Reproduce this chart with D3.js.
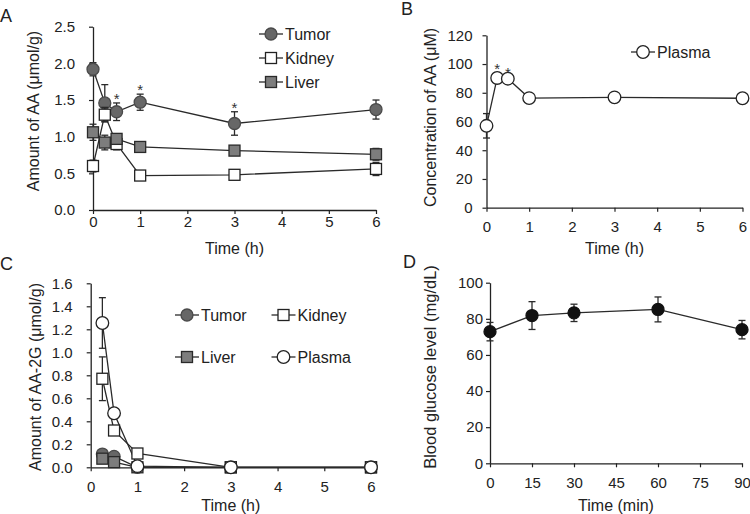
<!DOCTYPE html>
<html><head><meta charset="utf-8">
<script src="https://cdn.jsdelivr.net/npm/d3@7"></script>
<style>
body{margin:0;background:#fff;}
svg{display:block;font-family:"Liberation Sans",Arial,sans-serif;}
</style></head>
<body><svg id="c" width="750" height="514"></svg>
<script>
// ---------- DATA ----------
const timesH = [0, 0.25, 0.5, 1, 3, 6];
const timesHC = [0.25, 0.5, 1, 3, 6];
const timesMin = [0, 15, 30, 60, 90];

// Panel A: AA (µmol/g)
const aTumor = [1.92, 1.46, 1.34, 1.47, 1.18, 1.37];
const aTumorErr = [0.09, 0.25, 0.12, 0.11, 0.16, 0.13];
const aKidney = [0.60, 1.30, 0.90, 0.47, 0.48, 0.56];
const aKidneyErr = [0.08, 0.10, 0.08, 0.03, 0.06, 0.09];
const aLiver = [1.06, 0.92, 0.97, 0.86, 0.81, 0.76];
const aLiverErr = [0.11, 0.10, 0.07, 0.03, 0.03, 0.08];
const aStars = [0.5, 1, 3];

// Panel B: plasma AA (µM)
const bPlasma = [57.0, 90.3, 89.8, 76.3, 76.8, 76.2];
const bPlasmaErr = [8.5, 3.5, 1.5, 1.0, 3.0, 1.0];
const bStars = [0.25, 0.5];

// Panel C: AA-2G (µmol/g)
const cTumor = [0.115, 0.095, 0.0, 0.0, 0.0];
const cTumorErr = [0.01, 0.01, 0, 0, 0];
const cKidney = [0.77, 0.32, 0.12, 0.0, 0.0];
const cKidneyErr = [0.19, 0.03, 0.01, 0, 0];
const cLiver = [0.075, 0.045, 0.0, 0.0, 0.0];
const cLiverErr = [0.01, 0.01, 0, 0, 0];
const cPlasma = [1.255, 0.47, 0.01, 0.0, 0.0];
const cPlasmaErr = [0.22, 0.02, 0.005, 0, 0];

// Panel D: blood glucose (mg/dL)
const dGlucose = [72.9, 81.8, 83.3, 85.2, 74.0];
const dGlucoseErr = [5.1, 7.7, 4.8, 6.9, 5.1];

// Tick labels
const ticksA_y = [0, 0.5, 1.0, 1.5, 2.0, 2.5];
const ticksB_y = [0, 20, 40, 60, 80, 100, 120];
const ticksC_y = [0, 0.2, 0.4, 0.6, 0.8, 1.0, 1.2, 1.4, 1.6];
const ticksD_y = [0, 20, 40, 60, 80, 100];
const ticksH_x = [0, 1, 2, 3, 4, 5, 6];
const ticksMin_x = [0, 15, 30, 45, 60, 75, 90];

// ---------- DRAW ----------
const svg = d3.select("#c");
const ink = "#222";
const lineCol = "#2a2a2a";

function marker(g, shape, fill, stroke, cx, cy, size) {
  if (shape === "circle") {
    g.append("circle").attr("cx", cx).attr("cy", cy).attr("r", size)
      .attr("fill", fill).attr("stroke", stroke).attr("stroke-width", 1.3);
  } else {
    g.append("rect").attr("x", cx - size).attr("y", cy - size)
      .attr("width", size * 2).attr("height", size * 2)
      .attr("fill", fill).attr("stroke", stroke).attr("stroke-width", 1.3);
  }
}

const styles = {
  tumor: {shape: "circle", fill: "#676767", stroke: "#4a4a4a", size: 6},
  kidney: {shape: "rect", fill: "#fff", stroke: "#222", size: 5.5},
  liver: {shape: "rect", fill: "#7d7d7d", stroke: "#2a2a2a", size: 5.5},
  plasma: {shape: "circle", fill: "#fff", stroke: "#222", size: 6.3},
  glucose: {shape: "circle", fill: "#111", stroke: "#111", size: 6}
};

function panel(cfg) {
  const g = svg.append("g");
  const x = d3.scaleLinear().domain(cfg.xDomain).range(cfg.xRange);
  const y = d3.scaleLinear().domain(cfg.yDomain).range(cfg.yRange);

  // axes
  const xAx = d3.axisBottom(x).tickValues(cfg.xTicks).tickSize(4).tickSizeOuter(0)
    .tickPadding(cfg.xPad).tickFormat(d3.format("d"));
  const yAx = d3.axisLeft(y).tickValues(cfg.yTicks).tickSize(4).tickSizeOuter(0)
    .tickPadding(cfg.yPad).tickFormat(d3.format(cfg.yFmt));
  const gx = g.append("g").attr("transform", `translate(0,${cfg.yRange[0]})`).call(xAx);
  const gy = g.append("g").attr("transform", `translate(${cfg.xRange[0]},0)`).call(yAx);
  [gx, gy].forEach(a => {
    a.select(".domain").attr("stroke", ink).attr("stroke-width", 1.3);
    a.selectAll(".tick line").attr("stroke", ink).attr("stroke-width", 1.2);
    a.selectAll("text").attr("fill", ink).style("font-size", "15px")
      .style("font-family", '"Liberation Sans",Arial,sans-serif');
  });

  // titles
  g.append("text").attr("x", (cfg.xRange[0] + cfg.xRange[1]) / 2).attr("y", cfg.xTitleY)
    .attr("text-anchor", "middle").attr("fill", ink).style("font-size", "16px").text(cfg.xTitle);
  g.append("text").attr("transform", `translate(${cfg.yTitleX},${cfg.yTitleCY}) rotate(-90)`)
    .attr("text-anchor", "middle").attr("dy", "0.35em").attr("fill", ink)
    .style("font-size", cfg.yTitleSize || "16px").text(cfg.yTitle);
  g.append("text").attr("x", cfg.label[1]).attr("y", cfg.label[2]).attr("fill", ink)
    .style("font-size", "18px").text(cfg.label[0]);

  // series
  const line = d3.line().x(d => x(d[0])).y(d => y(d[1]));
  cfg.series.forEach(s => {
    const pts = s.xs.map((t, i) => [t, s.vals[i], s.errs[i]]);
    g.append("path").attr("d", line(pts)).attr("fill", "none")
      .attr("stroke", lineCol).attr("stroke-width", 1.3);
  });
  cfg.series.forEach(s => {
    const st = styles[s.style];
    s.xs.forEach((t, i) => {
      const e = s.errs[i];
      if (e > 0) {
        const cx = x(t), top = y(s.vals[i] + e), bot = y(Math.max(s.vals[i] - e, cfg.yDomain[0]));
        g.append("line").attr("x1", cx).attr("x2", cx).attr("y1", top).attr("y2", bot)
          .attr("stroke", lineCol).attr("stroke-width", 1.3);
        [top, bot].forEach(yy => g.append("line").attr("x1", cx - 3.5).attr("x2", cx + 3.5)
          .attr("y1", yy).attr("y2", yy).attr("stroke", lineCol).attr("stroke-width", 1.3));
      }
    });
    s.xs.forEach((t, i) => marker(g, st.shape, st.fill, st.stroke, x(t), y(s.vals[i]), st.size));
  });

  // stars
  (cfg.stars || []).forEach(st => {
    const s = cfg.series[st.series];
    const i = s.xs.indexOf(st.t);
    g.append("text").attr("x", x(st.t)).attr("y", y(s.vals[i] + s.errs[i]) + 1)
      .attr("text-anchor", "middle").attr("fill", "#333").style("font-size", "15px").text("*");
  });

  // legend
  cfg.legend.forEach(l => {
    const st = styles[l.style];
    g.append("line").attr("x1", l.x - 12).attr("x2", l.x + 12).attr("y1", l.y).attr("y2", l.y)
      .attr("stroke", lineCol).attr("stroke-width", 1.3);
    marker(g, st.shape, st.fill, st.stroke, l.x, l.y, st.size);
    g.append("text").attr("x", l.x + 14).attr("y", l.y).attr("dy", "0.35em").attr("fill", ink)
      .style("font-size", "16px").text(l.name);
  });
}

// Panel A
panel({
  xDomain: [0, 6], xRange: [93, 376], yDomain: [0, 2.5], yRange: [210, 26.7],
  xTicks: ticksH_x, yTicks: ticksA_y, yFmt: ".1f", xPad: 2, yPad: 14,
  xTitle: "Time (h)", xTitleY: 254, yTitle: "Amount of AA (\u03bcmol/g)", yTitleX: 33, yTitleCY: 111,
  label: ["A", 0, 22],
  series: [
    {xs: timesH, vals: aTumor, errs: aTumorErr, style: "tumor"},
    {xs: timesH, vals: aKidney, errs: aKidneyErr, style: "kidney"},
    {xs: timesH, vals: aLiver, errs: aLiverErr, style: "liver"}
  ],
  stars: aStars.map(t => ({series: 0, t})),
  legend: [
    {name: "Tumor", style: "tumor", x: 271, y: 34},
    {name: "Kidney", style: "kidney", x: 271, y: 58},
    {name: "Liver", style: "liver", x: 271, y: 82}
  ]
});

// Panel B
panel({
  xDomain: [0, 6], xRange: [486.5, 742.5], yDomain: [0, 120], yRange: [207.7, 35.3],
  xTicks: ticksH_x, yTicks: ticksB_y, yFmt: "d", xPad: 10, yPad: 10,
  xTitle: "Time (h)", xTitleY: 254, yTitle: "Concentration of AA (\u03bcM)", yTitleX: 430, yTitleCY: 117.5,
  label: ["B", 401, 15],
  series: [{xs: timesH, vals: bPlasma, errs: bPlasmaErr, style: "plasma"}],
  stars: bStars.map(t => ({series: 0, t})),
  legend: [{name: "Plasma", style: "plasma", x: 643, y: 52}]
});

// Panel C
panel({
  xDomain: [0, 6], xRange: [90.7, 371], yDomain: [0, 1.6], yRange: [467.3, 283.3],
  xTicks: ticksH_x, yTicks: ticksC_y, yFmt: ".1f", xPad: 10, yPad: 14,
  xTitle: "Time (h)", xTitleY: 511, yTitle: "Amount of AA-2G (\u03bcmol/g)", yTitleX: 35, yTitleCY: 377,
  label: ["C", 0, 270],
  series: [
    {xs: timesHC, vals: cTumor, errs: cTumorErr, style: "tumor"},
    {xs: timesHC, vals: cLiver, errs: cLiverErr, style: "liver"},
    {xs: timesHC, vals: cKidney, errs: cKidneyErr, style: "kidney"},
    {xs: timesHC, vals: cPlasma, errs: cPlasmaErr, style: "plasma"}
  ],
  legend: [
    {name: "Tumor", style: "tumor", x: 187, y: 315},
    {name: "Kidney", style: "kidney", x: 283.5, y: 315},
    {name: "Liver", style: "liver", x: 187, y: 357},
    {name: "Plasma", style: "plasma", x: 283.5, y: 357}
  ]
});

// Panel D
panel({
  xDomain: [0, 90], xRange: [490, 742], yDomain: [0, 100], yRange: [463.3, 282.7],
  xTicks: ticksMin_x, yTicks: ticksD_y, yFmt: "d", xPad: 10, yPad: 3,
  xTitle: "Time (min)", xTitleY: 511, yTitle: "Blood glucose level (mg/dL)", yTitleX: 430, yTitleCY: 367,
  yTitleSize: "16.5px",
  label: ["D", 403, 268],
  series: [{xs: timesMin, vals: dGlucose, errs: dGlucoseErr, style: "glucose"}],
  legend: []
});
</script></body></html>
